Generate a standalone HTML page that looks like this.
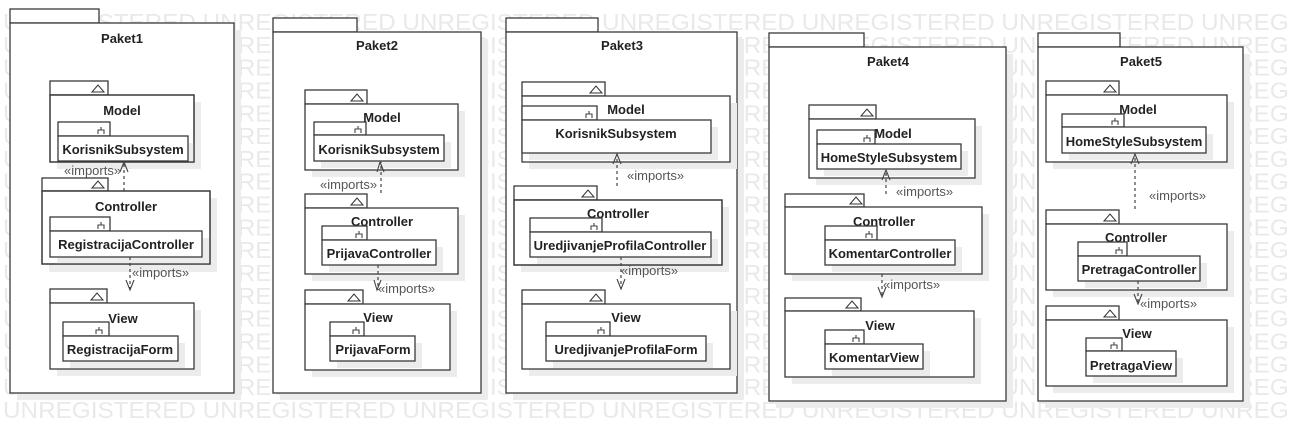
<!DOCTYPE html>
<html><head><meta charset="utf-8"><style>
html,body{margin:0;padding:0;background:#fff;}
svg{display:block;}
.wm{font-family:"Liberation Sans",sans-serif;font-size:23px;fill:#e9e9e9;}
.sh{fill:#ececec;}
.b{fill:#fff;stroke:#3a3a3a;stroke-width:1.3;}
.o{fill:none;stroke:#3a3a3a;stroke-width:1.3;}
.t{font-family:"Liberation Sans",sans-serif;font-size:13px;font-weight:bold;fill:#222;text-anchor:middle;}
.i{font-family:"Liberation Sans",sans-serif;font-size:13px;fill:#555;}
.d{stroke:#444;stroke-width:1.2;stroke-dasharray:3,3;fill:none;}
.a{stroke:#444;stroke-width:1.1;fill:none;}
.tri{fill:#fff;stroke:#333;stroke-width:1;}
</style></head><body>
<svg width="1289" height="441" viewBox="0 0 1289 441" xmlns="http://www.w3.org/2000/svg">
<g class="wm">
<text x="3" y="30" textLength="1391" lengthAdjust="spacingAndGlyphs">UNREGISTERED UNREGISTERED UNREGISTERED UNREGISTERED UNREGISTERED UNREGISTERED UNREGISTERED</text>
<text x="3" y="52.8" textLength="1391" lengthAdjust="spacingAndGlyphs">UNREGISTERED UNREGISTERED UNREGISTERED UNREGISTERED UNREGISTERED UNREGISTERED UNREGISTERED</text>
<text x="3" y="75.6" textLength="1391" lengthAdjust="spacingAndGlyphs">UNREGISTERED UNREGISTERED UNREGISTERED UNREGISTERED UNREGISTERED UNREGISTERED UNREGISTERED</text>
<text x="3" y="98.5" textLength="1391" lengthAdjust="spacingAndGlyphs">UNREGISTERED UNREGISTERED UNREGISTERED UNREGISTERED UNREGISTERED UNREGISTERED UNREGISTERED</text>
<text x="3" y="121.3" textLength="1391" lengthAdjust="spacingAndGlyphs">UNREGISTERED UNREGISTERED UNREGISTERED UNREGISTERED UNREGISTERED UNREGISTERED UNREGISTERED</text>
<text x="3" y="144.1" textLength="1391" lengthAdjust="spacingAndGlyphs">UNREGISTERED UNREGISTERED UNREGISTERED UNREGISTERED UNREGISTERED UNREGISTERED UNREGISTERED</text>
<text x="3" y="166.9" textLength="1391" lengthAdjust="spacingAndGlyphs">UNREGISTERED UNREGISTERED UNREGISTERED UNREGISTERED UNREGISTERED UNREGISTERED UNREGISTERED</text>
<text x="3" y="189.7" textLength="1391" lengthAdjust="spacingAndGlyphs">UNREGISTERED UNREGISTERED UNREGISTERED UNREGISTERED UNREGISTERED UNREGISTERED UNREGISTERED</text>
<text x="3" y="212.6" textLength="1391" lengthAdjust="spacingAndGlyphs">UNREGISTERED UNREGISTERED UNREGISTERED UNREGISTERED UNREGISTERED UNREGISTERED UNREGISTERED</text>
<text x="3" y="235.4" textLength="1391" lengthAdjust="spacingAndGlyphs">UNREGISTERED UNREGISTERED UNREGISTERED UNREGISTERED UNREGISTERED UNREGISTERED UNREGISTERED</text>
<text x="3" y="258.2" textLength="1391" lengthAdjust="spacingAndGlyphs">UNREGISTERED UNREGISTERED UNREGISTERED UNREGISTERED UNREGISTERED UNREGISTERED UNREGISTERED</text>
<text x="3" y="281" textLength="1391" lengthAdjust="spacingAndGlyphs">UNREGISTERED UNREGISTERED UNREGISTERED UNREGISTERED UNREGISTERED UNREGISTERED UNREGISTERED</text>
<text x="3" y="303.8" textLength="1391" lengthAdjust="spacingAndGlyphs">UNREGISTERED UNREGISTERED UNREGISTERED UNREGISTERED UNREGISTERED UNREGISTERED UNREGISTERED</text>
<text x="3" y="326.7" textLength="1391" lengthAdjust="spacingAndGlyphs">UNREGISTERED UNREGISTERED UNREGISTERED UNREGISTERED UNREGISTERED UNREGISTERED UNREGISTERED</text>
<text x="3" y="349.5" textLength="1391" lengthAdjust="spacingAndGlyphs">UNREGISTERED UNREGISTERED UNREGISTERED UNREGISTERED UNREGISTERED UNREGISTERED UNREGISTERED</text>
<text x="3" y="372.3" textLength="1391" lengthAdjust="spacingAndGlyphs">UNREGISTERED UNREGISTERED UNREGISTERED UNREGISTERED UNREGISTERED UNREGISTERED UNREGISTERED</text>
<text x="3" y="395.1" textLength="1391" lengthAdjust="spacingAndGlyphs">UNREGISTERED UNREGISTERED UNREGISTERED UNREGISTERED UNREGISTERED UNREGISTERED UNREGISTERED</text>
<text x="3" y="418" textLength="1391" lengthAdjust="spacingAndGlyphs">UNREGISTERED UNREGISTERED UNREGISTERED UNREGISTERED UNREGISTERED UNREGISTERED UNREGISTERED</text>
</g>

<!-- ===== Paket1 ===== -->
<rect class="sh" x="17" y="30" width="224" height="370"/>
<rect class="b" x="10" y="9" width="89" height="14"/>
<rect class="b" x="10" y="23" width="224" height="370"/>
<text class="t" x="122" y="43">Paket1</text>
<rect class="sh" x="57" y="102" width="144" height="67"/>
<rect class="b" x="50" y="81" width="58" height="14"/>
<path class="tri" d="M92,92 L98,85 L104,92 Z"/>
<rect class="b" x="50" y="95" width="144" height="67"/>
<text class="t" x="122" y="115">Model</text>
<rect class="sh" x="65" y="143" width="129" height="19"/>
<rect class="b" x="58" y="122" width="52" height="14"/>
<path class="a" d="M98,134 v-4 h6 v4 M101,130 v-3"/>
<rect class="b" x="58" y="136" width="130" height="25"/>
<text class="t" x="123" y="154">KorisnikSubsystem</text>
<rect class="o" x="50" y="95" width="144" height="67"/>
<rect class="sh" x="49" y="198" width="168" height="74"/>
<rect class="b" x="42" y="178" width="66" height="13"/>
<path class="tri" d="M92,188 L98,181 L104,188 Z"/>
<rect class="b" x="42" y="191" width="168" height="73"/>
<text class="t" x="126" y="211">Controller</text>
<rect class="sh" x="57" y="238" width="152" height="26"/>
<rect class="b" x="50" y="217" width="60" height="14"/>
<path class="a" d="M98,229 v-4 h6 v4 M101,225 v-3"/>
<rect class="b" x="50" y="231" width="152" height="26"/>
<text class="t" x="126" y="249">RegistracijaController</text>
<rect class="o" x="42" y="191" width="168" height="73"/>
<rect class="sh" x="57" y="310" width="144" height="66"/>
<rect class="b" x="50" y="289" width="57" height="14"/>
<path class="tri" d="M91,300 L97,293 L103,300 Z"/>
<rect class="b" x="50" y="303" width="144" height="66"/>
<text class="t" x="123" y="323">View</text>
<rect class="sh" x="70" y="343" width="115" height="25"/>
<rect class="b" x="63" y="322" width="46" height="14"/>
<path class="a" d="M96,334 v-4 h6 v4 M99,330 v-3"/>
<rect class="b" x="63" y="336" width="115" height="25"/>
<text class="t" x="120" y="354">RegistracijaForm</text>
<path class="d" d="M124,191 V163"/>
<path class="a" d="M120,172 L124,162 L128,172"/>
<text class="i" x="64" y="175">«imports»</text>
<path class="d" d="M130,257 V289"/>
<path class="a" d="M126,280 L130,290 L134,280"/>
<text class="i" x="132" y="277">«imports»</text>

<!-- ===== Paket2 ===== -->
<rect class="sh" x="280" y="39" width="208" height="361"/>
<rect class="b" x="273" y="18" width="84" height="14"/>
<rect class="b" x="273" y="32" width="208" height="361"/>
<text class="t" x="377" y="50">Paket2</text>
<rect class="sh" x="312" y="111" width="153" height="66"/>
<rect class="b" x="305" y="90" width="62" height="14"/>
<path class="tri" d="M351,101 L357,94 L363,101 Z"/>
<rect class="b" x="305" y="104" width="153" height="66"/>
<text class="t" x="382" y="122">Model</text>
<rect class="sh" x="321" y="142" width="130" height="26"/>
<rect class="b" x="314" y="122" width="52" height="13"/>
<path class="a" d="M355,133 v-4 h6 v4 M358,129 v-3"/>
<rect class="b" x="314" y="135" width="130" height="26"/>
<text class="t" x="379" y="154">KorisnikSubsystem</text>
<rect class="sh" x="312" y="215" width="153" height="66"/>
<rect class="b" x="305" y="194" width="62" height="14"/>
<path class="tri" d="M351,205 L357,198 L363,205 Z"/>
<rect class="b" x="305" y="208" width="153" height="66"/>
<text class="t" x="382" y="226">Controller</text>
<rect class="sh" x="329" y="247" width="114" height="25"/>
<rect class="b" x="322" y="226" width="45" height="14"/>
<path class="a" d="M356,238 v-4 h6 v4 M359,234 v-3"/>
<rect class="b" x="322" y="240" width="114" height="25"/>
<text class="t" x="379" y="258">PrijavaController</text>
<rect class="sh" x="312" y="311" width="145" height="66"/>
<rect class="b" x="305" y="290" width="58" height="14"/>
<path class="tri" d="M348,301 L354,294 L360,301 Z"/>
<rect class="b" x="305" y="304" width="145" height="66"/>
<text class="t" x="378" y="322">View</text>
<rect class="sh" x="337" y="343" width="85" height="25"/>
<rect class="b" x="330" y="322" width="34" height="14"/>
<path class="a" d="M353,334 v-4 h6 v4 M356,330 v-3"/>
<rect class="b" x="330" y="336" width="85" height="25"/>
<text class="t" x="373" y="354">PrijavaForm</text>
<path class="d" d="M381,193 V162"/>
<path class="a" d="M377,172 L380,162 L384,172"/>
<text class="i" x="320" y="189">«imports»</text>
<path class="d" d="M378,265 V290"/>
<path class="a" d="M374,280 L377,290 L381,280"/>
<text class="i" x="378" y="293">«imports»</text>

<!-- ===== Paket3 ===== -->
<rect class="sh" x="513" y="39" width="231" height="361"/>
<rect class="b" x="506" y="18" width="92" height="14"/>
<rect class="b" x="506" y="32" width="231" height="361"/>
<text class="t" x="622" y="50">Paket3</text>
<rect class="sh" x="529" y="103" width="208" height="66"/>
<rect class="b" x="522" y="82" width="83" height="14"/>
<path class="tri" d="M590,93 L596,86 L602,93 Z"/>
<rect class="b" x="522" y="96" width="208" height="66"/>
<text class="t" x="626" y="114">Model</text>
<rect class="sh" x="529" y="127" width="189" height="33"/>
<rect class="b" x="522" y="106" width="75" height="14"/>
<path class="a" d="M586,118 v-4 h6 v4 M589,114 v-3"/>
<rect class="b" x="522" y="120" width="189" height="33"/>
<text class="t" x="616" y="138">KorisnikSubsystem</text>
<rect class="sh" x="521" y="207" width="208" height="65"/>
<rect class="b" x="514" y="186" width="83" height="14"/>
<path class="tri" d="M582,197 L588,190 L594,197 Z"/>
<rect class="b" x="514" y="200" width="208" height="65"/>
<text class="t" x="618" y="218">Controller</text>
<rect class="sh" x="537" y="239" width="181" height="25"/>
<rect class="b" x="530" y="218" width="72" height="14"/>
<path class="a" d="M591,230 v-4 h6 v4 M594,226 v-3"/>
<rect class="b" x="530" y="232" width="181" height="25"/>
<text class="t" x="620" y="250">UredjivanjeProfilaController</text>
<rect class="o" x="514" y="200" width="208" height="65"/>
<rect class="sh" x="529" y="311" width="208" height="65"/>
<rect class="b" x="522" y="290" width="83" height="14"/>
<path class="tri" d="M590,301 L596,294 L602,301 Z"/>
<rect class="b" x="522" y="304" width="208" height="65"/>
<text class="t" x="626" y="322">View</text>
<rect class="sh" x="553" y="343" width="160" height="25"/>
<rect class="b" x="546" y="322" width="64" height="14"/>
<path class="a" d="M598,334 v-4 h6 v4 M601,330 v-3"/>
<rect class="b" x="546" y="336" width="160" height="25"/>
<text class="t" x="626" y="354">UredjivanjeProfilaForm</text>
<path class="d" d="M617,186 V154"/>
<path class="a" d="M613,164 L617,154 L621,164"/>
<text class="i" x="627" y="180">«imports»</text>
<path class="d" d="M621,257 V289"/>
<path class="a" d="M617,279 L621,289 L625,279"/>
<text class="i" x="621" y="275">«imports»</text>

<!-- ===== Paket4 ===== -->
<rect class="sh" x="776" y="54" width="237" height="354"/>
<rect class="b" x="769" y="33" width="95" height="14"/>
<rect class="b" x="769" y="47" width="237" height="354"/>
<text class="t" x="888" y="66">Paket4</text>
<rect class="sh" x="816" y="126" width="166" height="59"/>
<rect class="b" x="809" y="105" width="67" height="14"/>
<path class="tri" d="M861,116 L867,109 L873,116 Z"/>
<rect class="b" x="809" y="119" width="166" height="59"/>
<text class="t" x="893" y="138">Model</text>
<rect class="sh" x="824" y="151" width="144" height="25"/>
<rect class="b" x="817" y="130" width="58" height="14"/>
<path class="a" d="M864,142 v-4 h6 v4 M867,138 v-3"/>
<rect class="b" x="817" y="144" width="144" height="25"/>
<text class="t" x="889" y="162">HomeStyleSubsystem</text>
<rect class="sh" x="792" y="214" width="197" height="67"/>
<rect class="b" x="785" y="194" width="79" height="13"/>
<path class="tri" d="M850,204 L856,197 L862,204 Z"/>
<rect class="b" x="785" y="207" width="197" height="67"/>
<text class="t" x="884" y="226">Controller</text>
<rect class="sh" x="832" y="247" width="130" height="25"/>
<rect class="b" x="825" y="226" width="52" height="14"/>
<path class="a" d="M866,238 v-4 h6 v4 M869,234 v-3"/>
<rect class="b" x="825" y="240" width="130" height="25"/>
<text class="t" x="890" y="258">KomentarController</text>
<rect class="sh" x="792" y="318" width="189" height="66"/>
<rect class="b" x="785" y="298" width="76" height="13"/>
<path class="tri" d="M846,308 L852,301 L858,308 Z"/>
<rect class="b" x="785" y="311" width="189" height="66"/>
<text class="t" x="880" y="330">View</text>
<rect class="sh" x="832" y="351" width="98" height="25"/>
<rect class="b" x="825" y="330" width="39" height="14"/>
<path class="a" d="M853,342 v-4 h6 v4 M856,338 v-3"/>
<rect class="b" x="825" y="344" width="98" height="25"/>
<text class="t" x="874" y="362">KomentarView</text>
<path class="d" d="M886,194 V170"/>
<path class="a" d="M882,180 L886,170 L890,180"/>
<text class="i" x="896" y="196">«imports»</text>
<path class="d" d="M882,274 V297"/>
<path class="a" d="M878,287 L882,297 L886,287"/>
<text class="i" x="883" y="289">«imports»</text>

<!-- ===== Paket5 ===== -->
<rect class="sh" x="1045" y="54" width="205" height="354"/>
<rect class="b" x="1038" y="33" width="82" height="14"/>
<rect class="b" x="1038" y="47" width="205" height="354"/>
<text class="t" x="1141" y="66">Paket5</text>
<rect class="sh" x="1053" y="102" width="181" height="67"/>
<rect class="b" x="1046" y="81" width="73" height="14"/>
<path class="tri" d="M1104,92 L1110,85 L1116,92 Z"/>
<rect class="b" x="1046" y="95" width="181" height="67"/>
<text class="t" x="1138" y="114">Model</text>
<rect class="sh" x="1069" y="134" width="144" height="26"/>
<rect class="b" x="1062" y="114" width="62" height="13"/>
<path class="a" d="M1112,125 v-4 h6 v4 M1115,121 v-3"/>
<rect class="b" x="1062" y="127" width="144" height="26"/>
<text class="t" x="1134" y="146">HomeStyleSubsystem</text>
<rect class="sh" x="1053" y="231" width="181" height="66"/>
<rect class="b" x="1046" y="210" width="73" height="14"/>
<path class="tri" d="M1104,221 L1110,214 L1116,221 Z"/>
<rect class="b" x="1046" y="224" width="181" height="66"/>
<text class="t" x="1136" y="242">Controller</text>
<rect class="sh" x="1085" y="263" width="122" height="25"/>
<rect class="b" x="1078" y="242" width="49" height="14"/>
<path class="a" d="M1116,254 v-4 h6 v4 M1119,250 v-3"/>
<rect class="b" x="1078" y="256" width="122" height="25"/>
<text class="t" x="1139" y="274">PretragaController</text>
<rect class="sh" x="1053" y="327" width="181" height="66"/>
<rect class="b" x="1046" y="306" width="73" height="14"/>
<path class="tri" d="M1104,317 L1110,310 L1116,317 Z"/>
<rect class="b" x="1046" y="320" width="181" height="66"/>
<text class="t" x="1137" y="338">View</text>
<rect class="sh" x="1093" y="358" width="90" height="25"/>
<rect class="b" x="1086" y="338" width="36" height="13"/>
<path class="a" d="M1111,349 v-4 h6 v4 M1114,345 v-3"/>
<rect class="b" x="1086" y="351" width="90" height="25"/>
<text class="t" x="1131" y="370">PretragaView</text>
<path class="d" d="M1135,209 V154"/>
<path class="a" d="M1131,164 L1135,154 L1139,164"/>
<text class="i" x="1149" y="200">«imports»</text>
<path class="d" d="M1138,281 V304"/>
<path class="a" d="M1134,294 L1138,304 L1142,294"/>
<text class="i" x="1140" y="308">«imports»</text>
</svg>
</body></html>
